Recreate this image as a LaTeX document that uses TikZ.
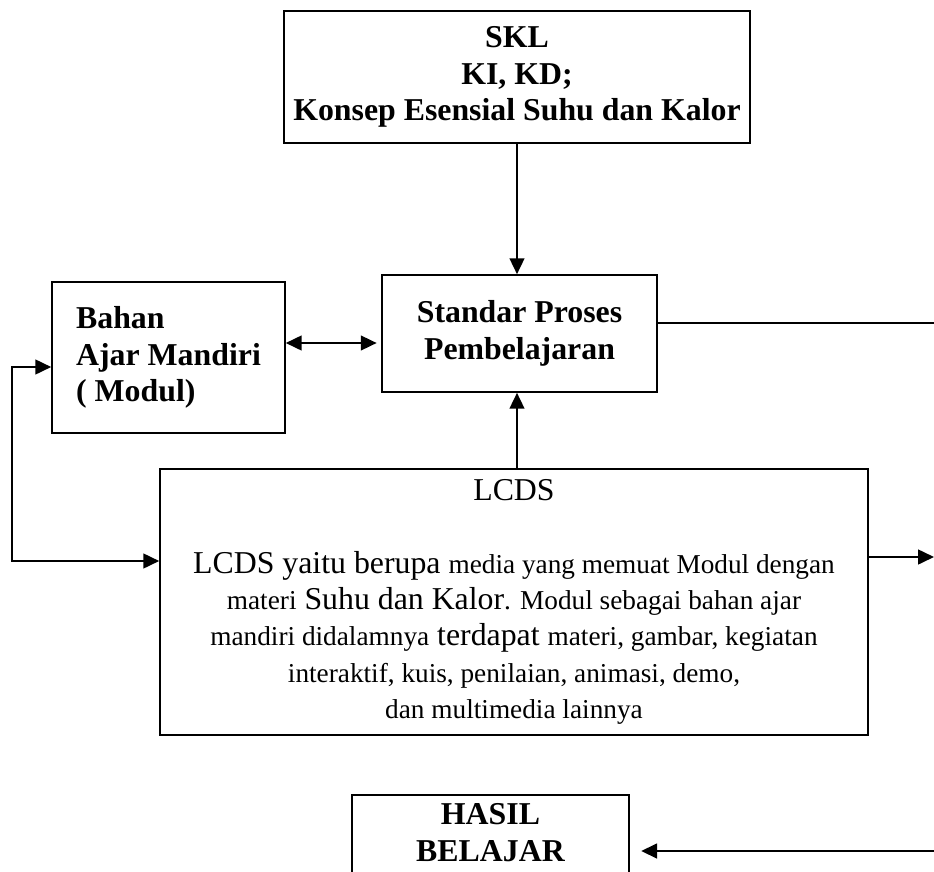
\documentclass[tikz,border=0pt]{standalone}
\usepackage{fontspec}
\setmainfont{Liberation Serif}
\usetikzlibrary{arrows.meta}
\newcommand{\besar}{\fontsize{14pt}{16pt}\selectfont}
\newcommand{\kecil}{\fontsize{12pt}{16pt}\selectfont}
\tikzset{
  ujung/.tip={Triangle[length=7pt,width=6.5pt]},
  kotak/.style={draw, line width=0.7pt, align=center, font=\besar\bfseries, inner sep=0pt},
  garis/.style={line width=0.9pt},
  panah/.style={garis, -ujung}
}
\begin{document}
\begin{tikzpicture}[x=0.44pt,y=-0.44pt]
\useasboundingbox (0,0) rectangle (934,872);
\clip (0,0) rectangle (934,872);

\node[kotak, minimum width=205pt, minimum height=58.1pt] (skl) at (517,77) {SKL\\KI, KD;\\Konsep Esensial Suhu dan Kalor};
\node[kotak, minimum width=121pt, minimum height=51.5pt] (proses) at (519.5,333.5) {Standar Proses\\Pembelajaran};
\node[kotak, align=left, minimum width=102.5pt, minimum height=66.4pt] (bahan) at (168.5,357.5) {Bahan\\Ajar Mandiri\\( Modul)};
\node[kotak, font=\besar, minimum width=311.5pt, minimum height=117pt] (lcds) at (514,602) {LCDS\\ \mbox{}\\
  LCDS yaitu berupa {\kecil media yang memuat Modul dengan}\\
  {\kecil materi} Suhu dan Kalor{\kecil . Modul sebagai bahan ajar}\\
  {\kecil mandiri didalamnya} terdapat {\kecil materi, gambar, kegiatan}\\
  {\kecil interaktif, kuis, penilaian, animasi, demo,}\\
  {\kecil dan multimedia lainnya}};
\node[kotak, anchor=north, minimum width=121.9pt, inner ysep=4pt] (hasil) at (490.5,794) {HASIL\\BELAJAR\\ \mbox{}};

\coordinate (kiri) at (12,0);
\coordinate (kanan) at (934,0);

% panah utama
\draw[panah] (skl.south) -- (skl.south |- proses.north);
\draw[panah] (skl.south |- lcds.north) -- (skl.south |- proses.south);
\draw[garis, ujung-ujung] (bahan.east |- 0,343) -- ([xshift=-2pt]proses.west |- 0,343);
\draw[garis, ujung-ujung] (bahan.west |- 0,367) -- (kiri |- 0,367) -- (kiri |- 0,561) -- (lcds.west |- 0,561);

% ke kanan
\draw[garis] (proses.east |- 0,323) -- (kanan |- 0,323);
\draw[panah] (lcds.east |- 0,557) -- (kanan |- 0,557);
\draw[panah, shorten >=5pt] (kanan |- 0,851) -- (hasil.east |- 0,851);
\end{tikzpicture}
\end{document}
